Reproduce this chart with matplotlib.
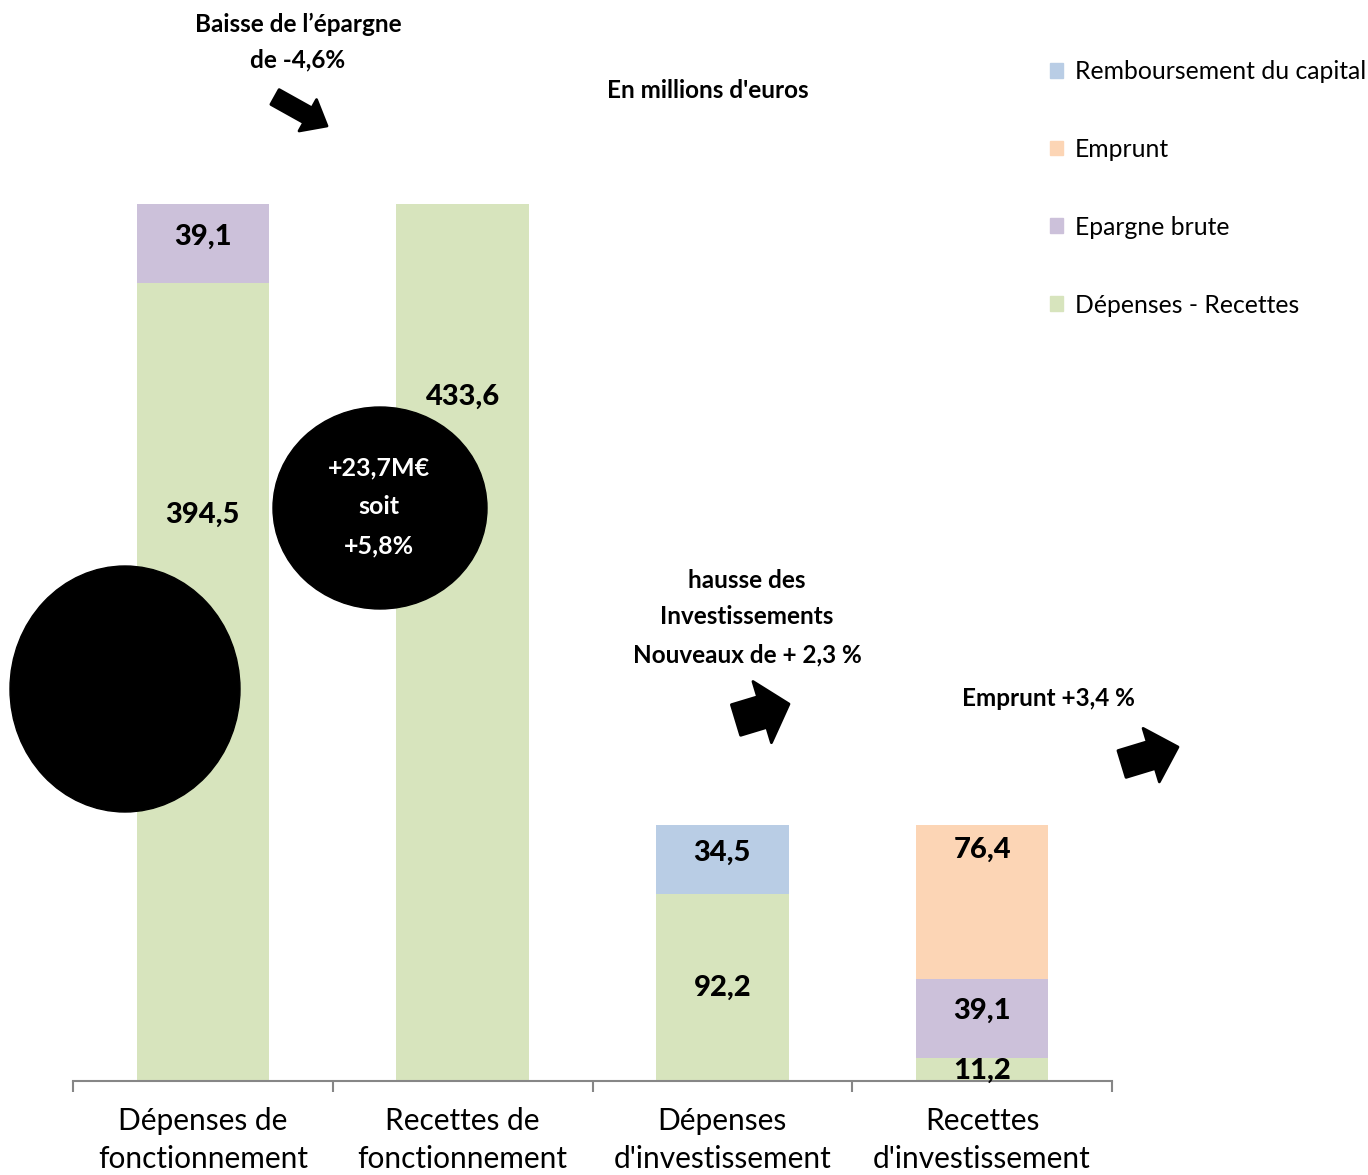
import matplotlib.pyplot as plt
import numpy as np
from matplotlib.patches import Ellipse, FancyArrow, Patch

plt.rcParams['font.family'] = ['Lato', 'DejaVu Sans']

categories = ['Dépenses de\nfonctionnement', 'Recettes de\nfonctionnement',
              'Dépenses\nd\'investissement', 'Recettes\nd\'investissement']

# Stacked segments, bottom to top (millions d'euros)
depenses_recettes = [394.5, 433.6, 92.2, 11.2]
epargne_brute = [39.1, 0, 0, 39.1]
remboursement = [0, 0, 34.5, 0]
emprunt = [0, 0, 0, 76.4]

series = [
    ('Dépenses - Recettes', depenses_recettes, '#D7E4BD'),
    ('Epargne brute', epargne_brute, '#CCC1DA'),
    ('Remboursement du capital', remboursement, '#B9CDE5'),
    ('Emprunt', emprunt, '#FCD5B5'),
]

# where the value label sits inside a segment (0 = bottom, 1 = top)
label_frac = {(0, 0): 0.71, (0, 1): 0.78, (1, 0): 0.58, (2, 2): 0.6,
              (0, 2): 0.5, (3, 3): 0.84, (1, 3): 0.6, (0, 3): 0.45}

W, H = 1368, 1175
fig = plt.figure(figsize=(W / 100, H / 100), dpi=100)
ax = fig.add_axes([73 / W, 94 / H, 1039 / W, 1081 / H])

x = np.arange(len(categories))
bottom = np.zeros(len(categories))
for si, (name, vals, color) in enumerate(series):
    vals = np.array(vals, dtype=float)
    ax.bar(x, vals, bottom=bottom, width=0.51, color=color, zorder=2)
    for ci, v in enumerate(vals):
        if v > 0:
            f = label_frac.get((si, ci), 0.5)
            ax.text(x[ci], bottom[ci] + v * f, f'{v:.1f}'.replace('.', ','),
                    ha='center', va='center', fontsize=21, fontweight='black',
                    zorder=4)
    bottom += vals

ax.set_xlim(-0.5, 3.5)
ax.set_ylim(0, 534.4)
ax.set_yticks([])
for s in ['left', 'right', 'top']:
    ax.spines[s].set_visible(False)
ax.spines['bottom'].set_color('#868686')
ax.spines['bottom'].set_linewidth(1.5)
ax.set_xticks(np.arange(-0.5, 4, 1))
ax.set_xticklabels([])
ax.tick_params(axis='x', which='major', length=8, width=1.5, color='#868686')
ax.set_xticks(x, minor=True)
ax.set_xticklabels(categories, minor=True, fontsize=21.5, linespacing=1.42)
ax.tick_params(axis='x', which='minor', length=0, pad=19)

# legend, top right
handles = [Patch(color=c, label=n) for n, _, c in
           [series[2], series[3], series[1], series[0]]]
fig.legend(handles=handles, loc='upper left', bbox_to_anchor=(1040 / W, 1 - 50 / H),
           frameon=False, fontsize=17.8, handlelength=0.55, handleheight=0.55,
           handletextpad=0.45, labelspacing=2.22, borderaxespad=0)

# overlay in pixel coordinates for shapes and annotations
ov = fig.add_axes([0, 0, 1, 1], zorder=5)
ov.set_xlim(0, W)
ov.set_ylim(H, 0)
ov.axis('off')
ov.patch.set_alpha(0)

ov.add_patch(Ellipse((125, 689), 230, 246, color='black'))
ov.add_patch(Ellipse((380, 508), 214, 202, color='black'))
for yy, t in [(468, '+23,7M€'), (507, 'soit'), (546, '+5,8%')]:
    ov.text(379, yy, t, color='white', ha='center', va='center',
            fontsize=18, fontweight='bold')


def block_arrow(tail, tip, width, head_width, head_length):
    dx, dy = tip[0] - tail[0], tip[1] - tail[1]
    ov.add_patch(FancyArrow(tail[0], tail[1], dx, dy, width=width,
                            head_width=head_width, head_length=head_length,
                            length_includes_head=True, color='black',
                            joinstyle='round', linewidth=2))


block_arrow((275, 97), (327, 126), 17, 36, 22)
block_arrow((736, 720), (789, 704), 32, 64, 28)
block_arrow((1122, 764), (1178, 747), 28, 56, 28)

bold = dict(ha='center', va='center', fontsize=17.5, fontweight='bold')
ov.text(298, 24, 'Baisse de l’épargne', **bold)
ov.text(298, 60, 'de -4,6%', **bold)
ov.text(708, 90, "En millions d'euros", **bold)
ov.text(747, 580, 'hausse des', **bold)
ov.text(747, 617, 'Investissements', **bold)
ov.text(747, 655, 'Nouveaux de + 2,3 %', **bold)
ov.text(1048, 698, 'Emprunt +3,4 %', **bold)

fig.savefig('out.png', dpi=100)
